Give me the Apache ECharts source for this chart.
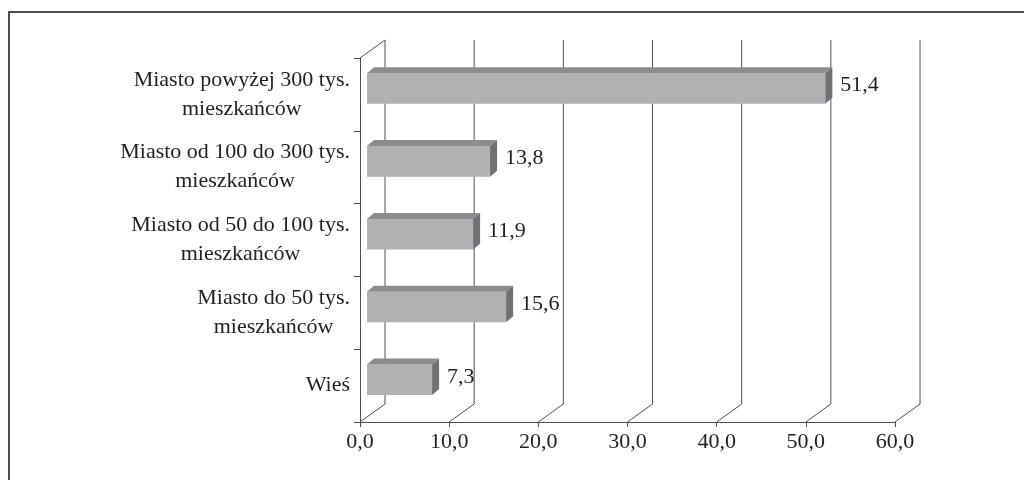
<!DOCTYPE html>
<html>
<head>
<meta charset="utf-8">
<script src="https://cdn.jsdelivr.net/npm/echarts@6/dist/echarts.min.js"></script>
<style>
  html, body { margin: 0; padding: 0; background: #fff; }
  #chart { width: 1024px; height: 480px; }
</style>
</head>
<body>
<div id="chart"></div>
<script>
// Place of residence shares (%)
const categories = [
  'Miasto powyżej 300 tys.\nmieszkańców',
  'Miasto od 100 do 300 tys.\nmieszkańców',
  'Miasto od 50 do 100 tys.\nmieszkańców',
  'Miasto do 50 tys.\nmieszkańców',
  'Wieś'
];
const values = [51.4, 13.8, 11.9, 15.6, 7.3];
const xTicks = [0, 10, 20, 30, 40, 50, 60];

const FONT = '"Liberation Serif", "DejaVu Serif", serif';
const LINE = '#4f4f4f';
const TEXT = '#231f20';
// perspective offset of the back wall
const WALL_DX = 25, WALL_DY = -18;
// bar depth
const BAR_DX = 7, BAR_DY = -6;

const fmt = v => v.toFixed(1).replace('.', ',');

const chart = echarts.init(document.getElementById('chart'), null, { renderer: 'canvas' });

chart.setOption({
  backgroundColor: '#ffffff',
  animation: false,
  graphic: [
    { type: 'line', shape: { x1: 8, y1: 12, x2: 1024, y2: 12 }, style: { stroke: '#4d4d4d', lineWidth: 2 } },
    { type: 'line', shape: { x1: 9, y1: 12, x2: 9, y2: 480 }, style: { stroke: '#4d4d4d', lineWidth: 2 } }
  ],
  grid: { left: 360, right: 129, top: 58, bottom: 58, containLabel: false },
  xAxis: {
    type: 'value', min: 0, max: 60, interval: 10,
    axisLine: { show: true, lineStyle: { color: LINE, width: 1 } },
    axisTick: { show: true, length: 5, lineStyle: { color: LINE } },
    splitLine: { show: false },
    axisLabel: { formatter: v => fmt(v), fontFamily: FONT, fontSize: 22, color: TEXT, margin: 9 }
  },
  yAxis: {
    type: 'category', inverse: true, data: categories,
    axisLine: { show: true, lineStyle: { color: LINE, width: 1 } },
    axisTick: { show: true, length: 6, lineStyle: { color: LINE } },
    splitLine: { show: false },
    axisLabel: {
      margin: 10,
      formatter: s => s.split('\n').map(l => '{c|' + l + '}').join('\n'),
      rich: { c: { align: 'center', fontFamily: FONT, fontSize: 22, color: TEXT, lineHeight: 29 } }
    }
  },
  series: [
    {
      // floor diagonals and back-wall verticals
      type: 'custom', clip: false, silent: true, z: 1,
      data: xTicks.map(v => [v]),
      renderItem: (params, api) => {
        const cs = params.coordSys;
        const x = api.coord([api.value(0), 0])[0];
        const yb = cs.y + cs.height, yt = cs.y;
        const st = { stroke: LINE, lineWidth: 1, fill: null };
        const children = [
          { type: 'line', shape: { x1: x, y1: yb, x2: x + WALL_DX, y2: yb + WALL_DY }, style: st },
          { type: 'line', shape: { x1: x + WALL_DX, y1: yb + WALL_DY, x2: x + WALL_DX, y2: yt + WALL_DY }, style: st }
        ];
        if (api.value(0) === 0) {
          children.push({ type: 'line', shape: { x1: x, y1: yt, x2: x + WALL_DX, y2: yt + WALL_DY }, style: st });
        }
        return { type: 'group', children };
      }
    },
    {
      // 3D bars with value labels
      type: 'custom', clip: false, z: 3,
      data: values.map((v, i) => [v, i]),
      renderItem: (params, api) => {
        const v = api.value(0), i = api.value(1);
        const p0 = api.coord([0, i]);
        const p1 = api.coord([v, i]);
        const band = api.size([0, 1])[1];
        const yc = p0[1];
        const x0 = p0[0] + 7, x1 = p1[0] + 7;
        const y0 = yc - band * 0.29, y1 = y0 + band * 0.42;
        return {
          type: 'group',
          children: [
            { type: 'rect', shape: { x: x0, y: y0, width: x1 - x0, height: y1 - y0 }, style: { fill: '#b0b1b3' } },
            { type: 'polygon', shape: { points: [[x0, y0], [x1, y0], [x1 + BAR_DX, y0 + BAR_DY], [x0 + BAR_DX, y0 + BAR_DY]] }, style: { fill: '#8b8c8e' } },
            { type: 'polygon', shape: { points: [[x1, y0], [x1 + BAR_DX, y0 + BAR_DY], [x1 + BAR_DX, y1 + BAR_DY], [x1, y1]] }, style: { fill: '#707174' } },
            { type: 'text', style: { x: x1 + BAR_DX + 8, y: (y0 + BAR_DY + y1) / 2, text: fmt(v), fill: TEXT, font: '22px ' + FONT, align: 'left', verticalAlign: 'middle' } }
          ]
        };
      }
    }
  ]
});
</script>
</body>
</html>
